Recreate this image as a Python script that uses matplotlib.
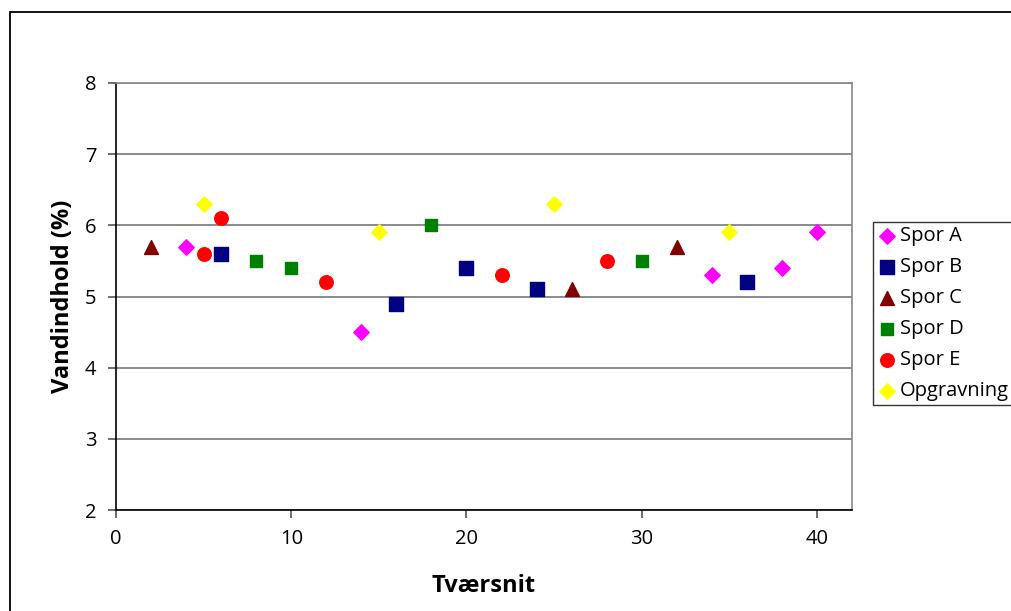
import matplotlib.pyplot as plt
from matplotlib.patches import Rectangle

# Tværsnit (x) og vandindhold (%) for hvert spor
spor_a_x = [4, 14, 34, 38, 40]
spor_a_y = [5.7, 4.5, 5.3, 5.4, 5.9]
spor_b_x = [6, 16, 20, 24, 36]
spor_b_y = [5.6, 4.9, 5.4, 5.1, 5.2]
spor_c_x = [2, 26, 32]
spor_c_y = [5.7, 5.1, 5.7]
spor_d_x = [8, 10, 18, 30]
spor_d_y = [5.5, 5.4, 6.0, 5.5]
spor_e_x = [5, 6, 12, 22, 28]
spor_e_y = [5.6, 6.1, 5.2, 5.3, 5.5]
opgr_x = [5, 15, 25, 35]
opgr_y = [6.3, 5.9, 6.3, 5.9]

x_ticks = [0, 10, 20, 30, 40]
y_ticks = [2, 3, 4, 5, 6, 7, 8]

plt.rcParams['font.family'] = ['Open Sans', 'DejaVu Sans']

fig = plt.figure(figsize=(10.12, 6.11), dpi=100)
ax = fig.add_axes([116 / 1012, 1 - 510 / 611, (852 - 116) / 1012, (510 - 83) / 611])

# outer chart border (left and top visible, rest runs off the picture)
fig.patches.append(Rectangle((10 / 1012, -0.1), 1.2, 1.1 - 12 / 611,
                             transform=fig.transFigure, fill=False,
                             edgecolor='black', linewidth=1.3, clip_on=False))

ax.scatter(spor_a_x, spor_a_y, marker='D', s=62, color='#FF00FF', label='Spor A', zorder=3)
ax.scatter(spor_b_x, spor_b_y, marker='s', s=88, color='#000080', label='Spor B', zorder=3)
ax.scatter(spor_c_x, spor_c_y, marker='^', s=100, color='#800000', label='Spor C', zorder=3)
ax.scatter(spor_d_x, spor_d_y, marker='s', s=72, color='#008000', label='Spor D', zorder=3)
ax.scatter(spor_e_x, spor_e_y, marker='o', s=95, color='#FF0000', label='Spor E', zorder=3)
ax.scatter(opgr_x, opgr_y, marker='D', s=62, color='#FFFF00', label='Opgravning', zorder=3)

ax.set_xlim(0, 42)
ax.set_ylim(2, 8)
ax.set_xticks(x_ticks)
ax.set_yticks(y_ticks)
ax.grid(axis='y', color='#777777', linewidth=1.2)
ax.set_axisbelow(True)

for side in ['top', 'right']:
    ax.spines[side].set_color('#888888')
    ax.spines[side].set_linewidth(1.2)
for side in ['left', 'bottom']:
    ax.spines[side].set_color('black')
    ax.spines[side].set_linewidth(1.2)

ax.tick_params(direction='out', length=6, width=1.2, color='#555555', labelsize=14.5, pad=8)

ax.set_xlabel('Tværsnit', fontsize=17, fontweight='bold', labelpad=18)
ax.set_ylabel('Vandindhold (%)', fontsize=17, fontweight='bold', labelpad=7)

leg = fig.legend(loc='upper left', bbox_to_anchor=(873 / 1012, 1 - 222 / 611),
                 fontsize=14.5, frameon=True, fancybox=False, handletextpad=0.1,
                 labelspacing=0.54, borderpad=0.22, handlelength=1.0,
                 borderaxespad=0)
leg.get_frame().set_edgecolor('black')
leg.get_frame().set_linewidth(1.0)

fig.savefig('out.png', dpi=100)
